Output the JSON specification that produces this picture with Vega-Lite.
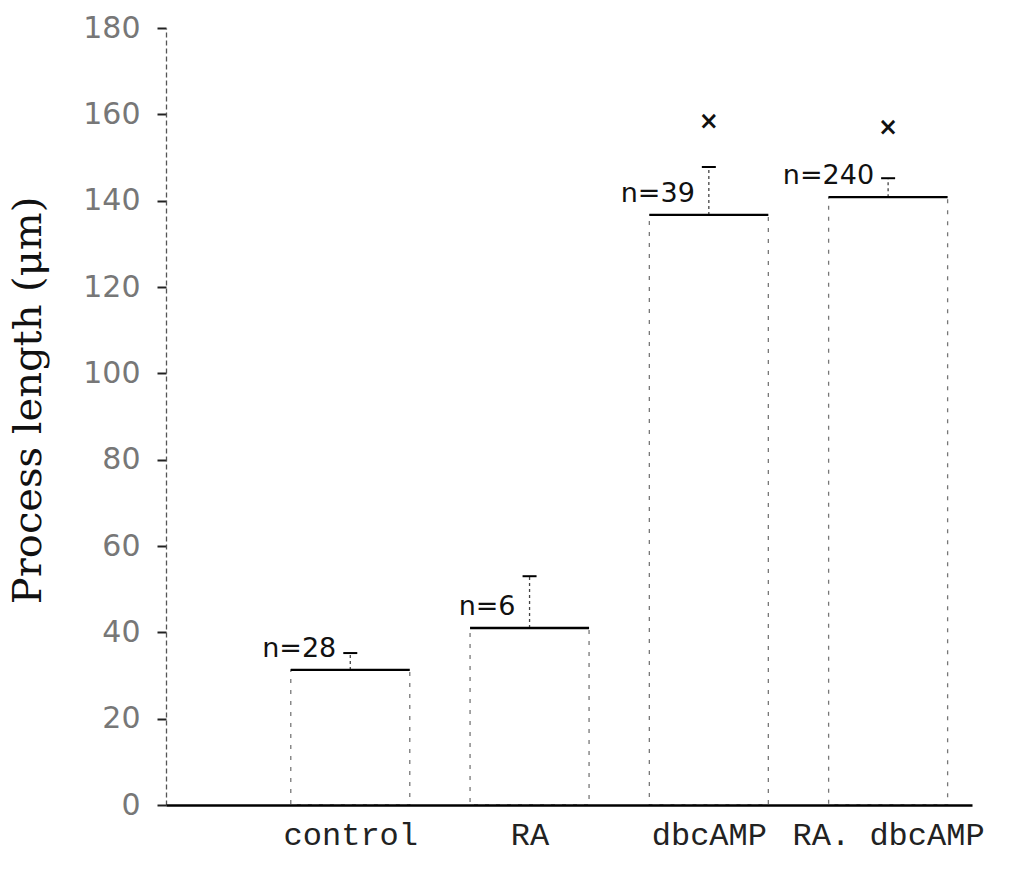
{
  "$schema": "https://vega.github.io/schema/vega-lite/v6.json",
  "autosize": {"type": "none"},
  "width": 806,
  "height": 777,
  "padding": {"left": 166, "top": 28, "right": 42, "bottom": 84},
  "background": "white",
  "config": {"view": {"stroke": null}},
  "data": {"values": [
    {"group": "control", "pos": 1, "mean": 31.3, "upper": 35.2, "n": "n=28"},
    {"group": "RA", "pos": 2, "mean": 41.0, "upper": 53.0, "n": "n=6"},
    {"group": "dbcAMP", "pos": 3, "mean": 136.7, "upper": 147.8, "n": "n=39", "star": 158.2},
    {"group": "RA. dbcAMP", "pos": 4, "mean": 140.8, "upper": 145.2, "n": "n=240", "star": 156.8}
  ]},
  "encoding": {
    "x": {
      "field": "pos", "type": "quantitative",
      "scale": {"domain": [0, 4.44], "nice": false, "zero": false},
      "axis": {
        "title": null, "values": [1, 2, 3, 4], "grid": false, "ticks": false,
        "labelExpr": "['','control','RA','dbcAMP','RA. dbcAMP'][datum.value]",
        "labelFont": "Liberation Mono", "labelFontSize": 32, "labelColor": "#222",
        "labelLimit": 0, "labelOverlap": false, "labelBound": false,
        "labelPadding": 14, "domainColor": "black", "domainWidth": 2.5, "zindex": 1
      }
    }
  },
  "layer": [
    {
      "mark": {"type": "bar", "size": 119, "fillOpacity": 0, "stroke": "#777", "strokeWidth": 1.3, "strokeDash": [4, 7]},
      "encoding": {
        "y": {
          "field": "mean", "type": "quantitative",
          "scale": {"domain": [0, 180], "nice": false},
          "axis": {
            "title": "Process length (μm)", "values": [0, 20, 40, 60, 80, 100, 120, 140, 160, 180],
            "grid": false, "tickSize": 9, "tickColor": "#222", "tickWidth": 2,
            "domainColor": "#555", "domainDash": [5, 3], "domainWidth": 1.3,
            "labelFont": "DejaVu Sans", "labelFontSize": 30, "labelColor": "#777", "labelPadding": 17,
            "titleFont": "DejaVu Serif", "titleFontSize": 40, "titleFontWeight": "normal", "titleColor": "#111",
            "titleX": -126, "titleY": 372, "titleAngle": -90, "titleBaseline": "alphabetic", "titleAlign": "center"
          }
        }
      }
    },
    {
      "mark": {"type": "rule", "stroke": "#444", "strokeWidth": 1.3, "strokeDash": [3, 3]},
      "encoding": {"y": {"field": "mean", "type": "quantitative"}, "y2": {"field": "upper"}}
    },
    {
      "mark": {"type": "tick", "orient": "horizontal", "size": 119, "thickness": 2.3, "color": "black", "opacity": 1},
      "encoding": {"y": {"field": "mean", "type": "quantitative"}}
    },
    {
      "mark": {"type": "tick", "orient": "horizontal", "size": 14, "thickness": 2, "color": "black", "opacity": 1},
      "encoding": {"y": {"field": "upper", "type": "quantitative"}}
    },
    {
      "mark": {"type": "text", "align": "right", "baseline": "middle", "dx": -14, "dy": -21, "font": "DejaVu Sans", "fontSize": 27, "color": "#111"},
      "encoding": {"y": {"field": "mean", "type": "quantitative"}, "text": {"field": "n"}}
    },
    {
      "transform": [{"filter": "isValid(datum.star)"}],
      "mark": {"type": "text", "text": "×", "align": "center", "baseline": "middle", "font": "DejaVu Sans", "fontSize": 24, "fontWeight": "bold", "color": "#111"},
      "encoding": {"y": {"field": "star", "type": "quantitative"}}
    }
  ]
}
